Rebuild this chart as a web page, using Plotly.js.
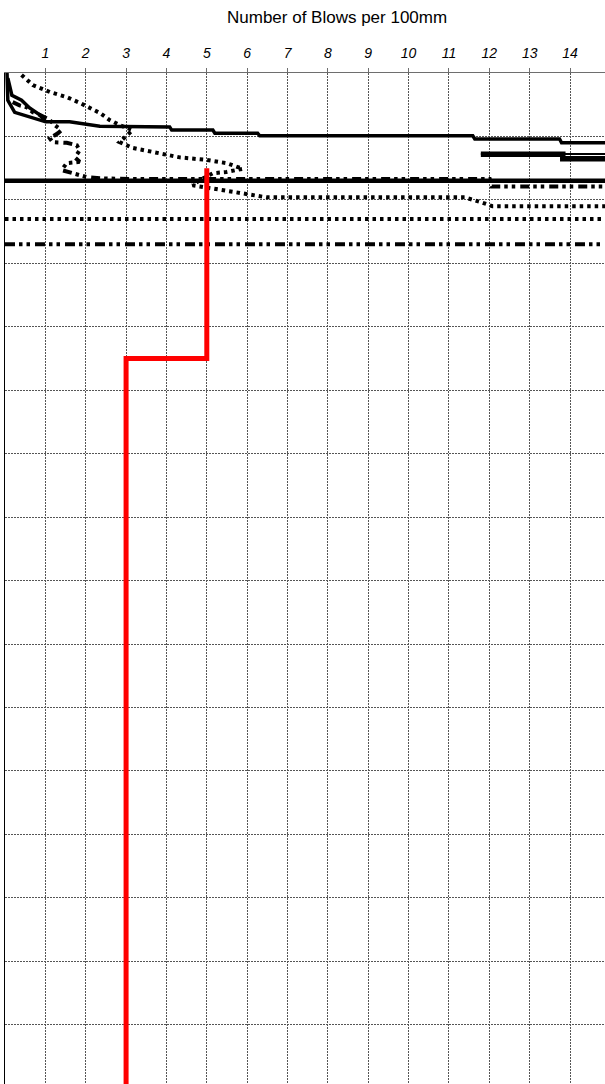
<!DOCTYPE html>
<html>
<head>
<meta charset="utf-8">
<script src="https://cdn.plot.ly/plotly-3.0.1.min.js"></script>
<style>html,body{margin:0;padding:0;background:#fff;overflow:hidden}#chart{width:605px;height:1084px}</style>
</head>
<body>
<div id="chart"></div>
<script>
// Number of blows per 100mm vs depth (mm)
const titleText = "Number of Blows per 100mm";
const blowTicks = [1,2,3,4,5,6,7,8,9,10,11,12,13,14];

// main test (red step line)
const mainBlows = [5, 5, 3, 3];
const mainDepth = [150, 450, 450, 1600];

// other profiles (black)
const solidA_x = [0.05,0.07,0.24,0.61,1.01,1.60,2.35,4.08,4.13,5.15,5.20,6.26,6.31,11.59,11.64,13.74,13.79,14.9];
const solidA_y = [0,43,62,69,77,77,84,85,90,90,95,95,99,99,104,104,110,110];
const solidB_x = [0.07,0.17,0.41,0.61,0.86,1.01];
const solidB_y = [8,35,43,55,66,77];
const solidC_x = [11.79,13.82,13.82,14.9];
const solidC_y = [128,128,135,135];
const solidD_x = [11.79,14.9];
const solidD_y = [127.5,127.5];
const solidE_x = [0,14.9];
const solidE_y = [170,170];

const dotA_x = [0.41,0.69,1.11,1.53,1.85,2.10,2.35,2.59,2.84,3.16,2.84,3.16,3.66,4.33,5.00,5.49,5.89,5.49,5.15,4.82,4.65,5.07,5.82,6.48,7.43,11.39,11.81,12.08,14.9];
const dotA_y = [3,19,30,38,47,55,63,74,82,90,109,118,125,133,137,142,151,156,158,169,177,181,189,196,196,196,204,210,210];

const dashDotA_x = [0.19,0.36,0.54,0.69,0.86,1.11,1.23,1.40,1.31,1.11,1.18,1.53,1.78,1.85,1.73,1.85,1.53,1.40,1.68,2.02,2.35,3.09,12.01,12.06,14.9];
const dashDotA_y = [46,51,54,62,66,74,82,90,95,103,109,110,114,122,133,140,142,153,158,164,166,167,167,179,179];

const dotH_x = [0,14.9];
const dotH_y = [230,230];
const dashDotH_x = [0,14.9];
const dashDotH_y = [270,270];

function ln(x, y, color, width, dash) {
  return {x: x, y: y, type: 'scatter', mode: 'lines', hoverinfo: 'skip',
    line: {color: color, width: width, dash: dash || 'solid'}};
}

const traces = [
  ln(dotH_x, dotH_y, '#000', 4, '3.5px,4px'),
  ln(dashDotH_x, dashDotH_y, '#000', 4, '10px,4px,3.5px,4px,3.5px,5px'),
  ln(dotA_x, dotA_y, '#000', 4, '3.5px,4px'),
  ln(dashDotA_x, dashDotA_y, '#000', 4, '9px,4px,3.5px,4px,3.5px,5px'),
  ln(solidE_x, solidE_y, '#000', 4.5),
  ln(solidA_x, solidA_y, '#000', 3.5),
  ln(solidB_x, solidB_y, '#000', 3.5),
  ln(solidD_x, solidD_y, '#000', 2),
  ln(solidC_x, solidC_y, '#000', 5.5),
  ln(mainBlows, mainDepth, '#ff0000', 5)
];

const layout = {
  width: 605, height: 1084,
  margin: {l: 5, r: 0, t: 73, b: 0, pad: 0},
  paper_bgcolor: '#fff', plot_bgcolor: '#fff',
  showlegend: false,
  font: {family: 'Liberation Sans, Arial, sans-serif', color: '#000'},
  xaxis: {
    side: 'top', range: [0, 14.866], tickvals: blowTicks, ticktext: blowTicks.map(String),
    showgrid: true, gridcolor: '#555', gridwidth: 1, griddash: '2px,1px',
    showline: true, linecolor: '#6e6e6e', linewidth: 1.5,
    ticks: 'outside', ticklen: 4, tickcolor: '#6e6e6e', tickwidth: 1,
    tickfont: {size: 14, style: 'italic', family: 'Liberation Sans, Arial, sans-serif'},
    ticklabelstandoff: 4,
    zeroline: false, fixedrange: true
  },
  yaxis: {
    range: [1593.4, 0], dtick: 100, tick0: 0,
    showticklabels: false, ticks: '',
    showgrid: true, gridcolor: '#555', gridwidth: 1, griddash: '2px,1px',
    showline: true, linecolor: '#000', linewidth: 1.5,
    zeroline: false, fixedrange: true
  },
  annotations: [{
    text: titleText, xref: 'x', yref: 'paper', x: 8.22, y: 1,
    xanchor: 'center', yanchor: 'middle', yshift: 56, showarrow: false,
    font: {size: 17, family: 'Liberation Sans, Arial, sans-serif', color: '#000'}
  }]
};

Plotly.newPlot('chart', traces, layout, {staticPlot: true, displayModeBar: false});
</script>
</body>
</html>
